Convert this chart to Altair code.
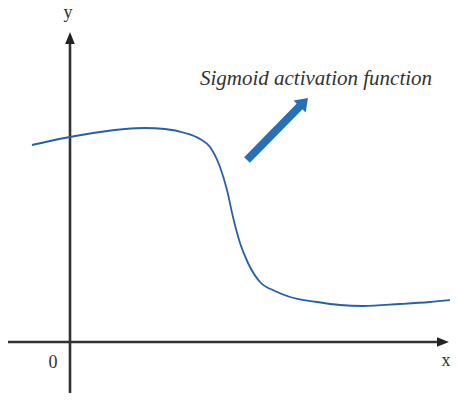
import altair as alt
import pandas as pd

# Curve (data units; origin at the axes crossing)
curve_x = [-0.95, -0.5, 0.0, 0.75, 1.375, 1.875, 2.375, 2.875, 3.25, 3.5, 3.75, 3.925,
           4.075, 4.25, 4.45, 4.75, 5.125, 5.5, 6.175, 6.75, 7.325, 8.25, 9.0, 9.55]
curve_y = [4.925, 5.025, 5.125, 5.25, 5.325, 5.35, 5.325, 5.225, 5.075, 4.875, 4.375, 3.8,
           3.125, 2.475, 1.975, 1.5, 1.275, 1.125, 1.0, 0.925, 0.9, 0.95, 1.0, 1.05]

# Axis lines: [x, y, x2, y2]
axis_x = [-1.575, 0.0]
axis_y = [0.0, -1.6]
axis_x2 = [9.3, 0.0]
axis_y2 = [0.0, 7.55]

# Arrow heads of axes
xhead = [9.325, 0.0]
yhead = [0.0, 7.6]

# Blue annotation arrow
arrow_tail = [4.425, 4.55]
arrow_base = [5.76, 5.91]
arrow_head = [5.845, 5.995]

# Texts
label_text = ["y", "x", "0"]
label_x = [-0.05, 9.4, -0.425]
label_y = [8.1, -0.6, -0.65]
title_text = ["Sigmoid activation function"]
title_x = [6.15]
title_y = [6.425]

W, H = 442, 385
xs = alt.Scale(domain=[-1.55, 9.5], nice=False, zero=False)
ys = alt.Scale(domain=[-1.275, 8.35], nice=False, zero=False)

def X(f):
    return alt.X(f, type="quantitative", scale=xs, axis=None)

def Y(f):
    return alt.Y(f, type="quantitative", scale=ys, axis=None)

axes_df = pd.DataFrame({"x": axis_x, "y": axis_y, "x2": axis_x2, "y2": axis_y2})
axes = alt.Chart(axes_df).mark_rule(color="#333333", strokeWidth=2.6).encode(
    x=X("x"), y=Y("y"), x2="x2", y2="y2")

head_shape = "M-0.8,1L0,-1L0.8,1Z"
xh = alt.Chart(pd.DataFrame({"x": [xhead[0]], "y": [xhead[1]]})).mark_point(
    shape=head_shape, filled=True, size=144, angle=90, color="#222222", opacity=1,
    strokeWidth=0).encode(x=X("x"), y=Y("y"))
yh = alt.Chart(pd.DataFrame({"x": [yhead[0]], "y": [yhead[1]]})).mark_point(
    shape=head_shape, filled=True, size=144, angle=0, color="#222222", opacity=1,
    strokeWidth=0).encode(x=X("x"), y=Y("y"))

curve = alt.Chart(pd.DataFrame({"x": curve_x, "y": curve_y})).mark_line(
    color="#2560a8", strokeWidth=1.8, interpolate="monotone").encode(x=X("x"), y=Y("y"))

shaft = alt.Chart(pd.DataFrame({"x": [arrow_tail[0]], "y": [arrow_tail[1]],
                                "x2": [arrow_base[0]], "y2": [arrow_base[1]]})).mark_rule(
    color="#2570B9", strokeWidth=8, strokeCap="butt").encode(
    x=X("x"), y=Y("y"), x2="x2", y2="y2")
bhead = alt.Chart(pd.DataFrame({"x": [arrow_head[0]], "y": [arrow_head[1]]})).mark_point(
    shape="M-1,0.7L0,-0.7L1,0.7Z", filled=True, size=289, angle=45, color="#2570B9",
    opacity=1, strokeWidth=0).encode(x=X("x"), y=Y("y"))

labels = alt.Chart(pd.DataFrame({"t": label_text, "x": label_x, "y": label_y})).mark_text(
    font="Liberation Serif", fontSize=18, color="#333333", align="center",
    baseline="alphabetic").encode(x=X("x"), y=Y("y"), text="t:N")

title = alt.Chart(pd.DataFrame({"t": title_text, "x": title_x, "y": title_y})).mark_text(
    font="Liberation Serif", fontSize=21, fontStyle="italic", color="#333333",
    align="center", baseline="alphabetic").encode(x=X("x"), y=Y("y"), text="t:N")

chart = alt.layer(axes, xh, yh, curve, shaft, bhead, labels, title).properties(
    width=W, height=H, padding=0, autosize=alt.AutoSizeParams(type="none"),
    background="white"
).configure_view(stroke=None)

chart.save("out.html", embed_options={"renderer": "svg", "actions": False})
